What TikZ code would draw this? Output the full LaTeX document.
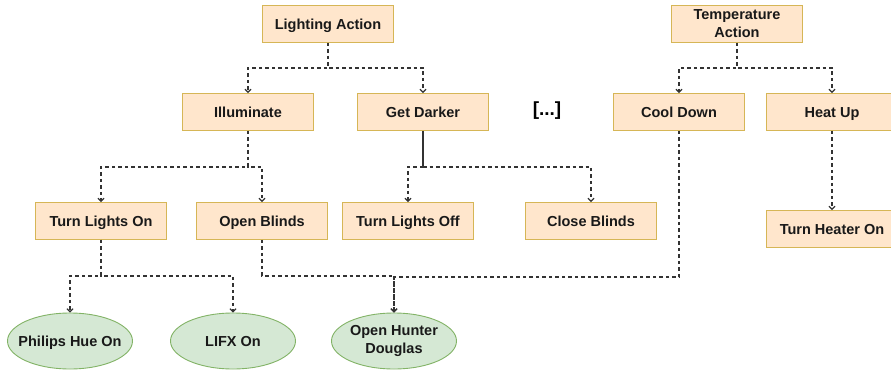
\documentclass[tikz,border=0pt]{standalone}
\usepackage{fontspec}
\setmainfont{Liberation Sans}
\usetikzlibrary{arrows.meta,shapes.geometric}

\definecolor{boxfill}{HTML}{FFE6CC}
\definecolor{boxline}{HTML}{D6B656}
\definecolor{devfill}{HTML}{D5E8D4}
\definecolor{devline}{HTML}{82B366}
\definecolor{linkcol}{HTML}{333333}

\begin{document}
\begin{tikzpicture}[x=1pt, y=-1pt,
    box/.style={draw=boxline, fill=boxfill, line width=0.9pt, minimum width=131pt, minimum height=37pt,
        inner sep=1pt, align=center, text=black!90, font=\bfseries\fontsize{14.5}{18}\selectfont},
    action/.style={box, text height=12.5pt, text depth=2pt},
    device/.style={ellipse, draw=devline, fill=devfill, line width=0.9pt, minimum width=125pt, minimum height=56pt,
        inner xsep=-12pt, inner ysep=0pt, align=center, text=black!90, font=\bfseries\fontsize{14.5}{18}\selectfont},
    link/.style={draw=linkcol, line width=1.2pt, dash pattern=on 3.5pt off 3pt, -{Straight Barb[length=3pt,width=6pt]}},
    stem/.style={draw=linkcol, line width=1.2pt}]
    \useasboundingbox (0,0) rectangle (891,372);
    \clip (0,0) rectangle (891,372);

    % Define the nodes
    \node[action] (light) at (328,24) {Lighting Action};
    \node[box] (temp) at (737,24) {Temperature\\Action};
    \node[action] (illum) at (248,112) {Illuminate};
    \node[action] (darker) at (423,112) {Get Darker};
    \node[action] (cool) at (679,112) {Cool Down};
    \node[action] (heat) at (832,112) {Heat Up};
    \node[action] (lon) at (101,221) {Turn Lights On};
    \node[action] (oblind) at (262,221) {Open Blinds};
    \node[action] (loff) at (408,221) {Turn Lights Off};
    \node[action] (cblind) at (591,221) {Close Blinds};
    \node[action] (heater) at (832,229) {Turn Heater On};
    \node[device, text height=12.5pt, text depth=2pt] (hue) at (70,341) {Philips Hue On};
    \node[device, text height=12.5pt, text depth=2pt] (lifx) at (233,341) {LIFX On};
    \node[device] (hunter) at (394,341) {Open Hunter\\Douglas};
    \node[font=\bfseries\fontsize{19}{21}\selectfont] (more) at (547,111) {[...]};

    % Draw the edges
    \draw[link] (light.south) -- ++(0,25) -| (illum.north);
    \draw[link] (light.south) -- ++(0,25) -| (darker.north);
    \draw[link] (temp.south) -- ++(0,25) -| (cool.north);
    \draw[link] (temp.south) -- ++(0,25) -| (heat.north);
    \draw[link] (illum.south) -- ++(0,36) -| (lon.north);
    \draw[link] (illum.south) -- ++(0,36) -| (oblind.north);
    \draw[stem] (darker.south) -- ++(0,36) coordinate (dj);
    \draw[link] (dj) -| (loff.north);
    \draw[link] (dj) -| (cblind.north);
    \draw[link] (heat.south) -- (heater.north);
    \draw[link] (lon.south) -- ++(0,36) -| (hue.north);
    \draw[link] (lon.south) -- ++(0,36) -| (lifx.north);
    \draw[link] (oblind.south) -- ++(0,36) -| (hunter.north);
    \draw[link] (cool.south) -- ++(0,146) -| (hunter.north);
\end{tikzpicture}
\end{document}
